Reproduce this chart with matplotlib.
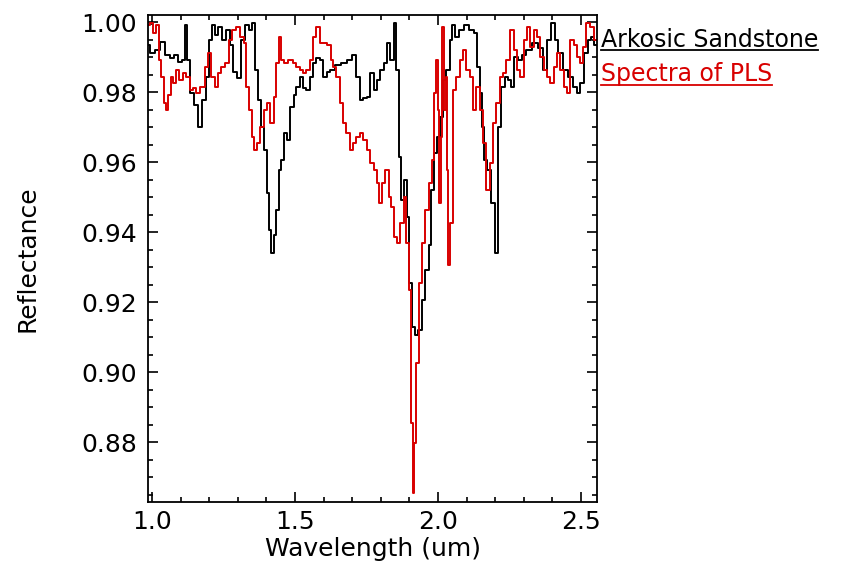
import matplotlib
matplotlib.use("Agg")
import matplotlib.pyplot as plt
from matplotlib.lines import Line2D
from matplotlib.ticker import MultipleLocator

# spectra (wavelength in um, reflectance)
wl_ark = [0.986, 1.000, 1.021, 1.038, 1.056, 1.070, 1.084, 1.098, 1.112, 1.119,
          1.129, 1.140, 1.154, 1.168, 1.182, 1.196, 1.206, 1.213, 1.227, 1.238,
          1.252, 1.266, 1.276, 1.290, 1.304, 1.318, 1.332, 1.346, 1.353, 1.364,
          1.374, 1.385, 1.395, 1.406, 1.413, 1.420, 1.430, 1.437, 1.448, 1.455,
          1.465, 1.476, 1.490, 1.500, 1.510, 1.524, 1.535, 1.545, 1.559, 1.570,
          1.580, 1.594, 1.605, 1.619, 1.629, 1.650, 1.675, 1.692, 1.710, 1.720,
          1.734, 1.745, 1.755, 1.769, 1.780, 1.790, 1.804, 1.815, 1.825, 1.839,
          1.850, 1.857, 1.867, 1.874, 1.885, 1.895, 1.902, 1.913, 1.923, 1.937,
          1.948, 1.962, 1.972, 1.979, 1.990, 2.000, 2.014, 2.024, 2.035, 2.049,
          2.052, 2.066, 2.084, 2.101, 2.119, 2.136, 2.140, 2.154, 2.157, 2.164,
          2.182, 2.192, 2.206, 2.217, 2.227, 2.241, 2.252, 2.259, 2.269, 2.287,
          2.301, 2.315, 2.339, 2.357, 2.374, 2.385, 2.402, 2.413, 2.427, 2.444,
          2.462, 2.479, 2.490, 2.503, 2.521, 2.531, 2.542, 2.552]
refl_ark = [0.9934, 0.9911, 0.9920, 0.9943, 0.9906, 0.9897, 0.9906, 0.9886, 0.9891, 0.9991,
            0.9891, 0.9797, 0.9763, 0.9700, 0.9777, 0.9843, 0.9949, 0.9991, 0.9963, 0.9986,
            0.9949, 0.9977, 0.9934, 0.9857, 0.9840, 0.9949, 0.9991, 0.9977, 0.9997, 0.9863,
            0.9777, 0.9700, 0.9634, 0.9511, 0.9406, 0.9340, 0.9391, 0.9463, 0.9577, 0.9606,
            0.9683, 0.9663, 0.9757, 0.9791, 0.9814, 0.9843, 0.9811, 0.9806, 0.9843, 0.9883,
            0.9897, 0.9891, 0.9843, 0.9857, 0.9863, 0.9877, 0.9883, 0.9891, 0.9906, 0.9843,
            0.9777, 0.9783, 0.9786, 0.9854, 0.9806, 0.9834, 0.9863, 0.9883, 0.9940, 0.9891,
            0.9997, 0.9863, 0.9614, 0.9491, 0.9549, 0.9443, 0.9254, 0.9129, 0.9106, 0.9120,
            0.9206, 0.9291, 0.9363, 0.9520, 0.9626, 0.9671, 0.9729, 0.9834, 0.9863, 0.9949,
            0.9991, 0.9957, 0.9977, 0.9991, 0.9977, 0.9969, 0.9871, 0.9797, 0.9700, 0.9606,
            0.9577, 0.9483, 0.9340, 0.9700, 0.9814, 0.9843, 0.9834, 0.9814, 0.9900, 0.9891,
            0.9906, 0.9920, 0.9940, 0.9926, 0.9863, 0.9949, 0.9997, 0.9949, 0.9911, 0.9863,
            0.9843, 0.9814, 0.9797, 0.9826, 0.9911, 0.9949, 0.9957, 0.9934]

wl_pls = [0.986, 1.000, 1.010, 1.021, 1.028, 1.038, 1.045, 1.052, 1.063, 1.070,
          1.080, 1.091, 1.101, 1.115, 1.126, 1.140, 1.150, 1.161, 1.178, 1.192,
          1.203, 1.213, 1.227, 1.238, 1.248, 1.262, 1.273, 1.283, 1.301, 1.315,
          1.325, 1.332, 1.343, 1.353, 1.360, 1.371, 1.385, 1.395, 1.406, 1.420,
          1.430, 1.437, 1.448, 1.455, 1.465, 1.483, 1.500, 1.510, 1.524, 1.535,
          1.545, 1.559, 1.570, 1.580, 1.594, 1.605, 1.622, 1.629, 1.640, 1.650,
          1.664, 1.675, 1.685, 1.699, 1.710, 1.720, 1.734, 1.745, 1.755, 1.769,
          1.780, 1.790, 1.797, 1.808, 1.822, 1.832, 1.839, 1.850, 1.860, 1.874,
          1.885, 1.892, 1.902, 1.909, 1.913, 1.920, 1.927, 1.937, 1.948, 1.962,
          1.972, 1.983, 1.990, 1.997, 2.000, 2.007, 2.014, 2.017, 2.024, 2.031,
          2.035, 2.038, 2.045, 2.059, 2.070, 2.084, 2.094, 2.105, 2.119, 2.129,
          2.140, 2.154, 2.164, 2.175, 2.189, 2.199, 2.210, 2.224, 2.234, 2.245,
          2.259, 2.269, 2.280, 2.294, 2.304, 2.315, 2.329, 2.339, 2.350, 2.364,
          2.374, 2.385, 2.399, 2.409, 2.420, 2.434, 2.444, 2.455, 2.469, 2.479,
          2.490, 2.503, 2.514, 2.524, 2.538, 2.552]
refl_pls = [0.9991, 0.9997, 0.9969, 0.9991, 0.9891, 0.9843, 0.9769, 0.9749, 0.9791, 0.9843,
            0.9826, 0.9863, 0.9834, 0.9854, 0.9843, 0.9806, 0.9811, 0.9797, 0.9814, 0.9871,
            0.9911, 0.9843, 0.9814, 0.9854, 0.9871, 0.9883, 0.9949, 0.9977, 0.9986, 0.9957,
            0.9940, 0.9814, 0.9749, 0.9671, 0.9634, 0.9654, 0.9700, 0.9749, 0.9769, 0.9711,
            0.9786, 0.9883, 0.9957, 0.9891, 0.9883, 0.9891, 0.9883, 0.9871, 0.9863, 0.9854,
            0.9863, 0.9891, 0.9957, 0.9986, 0.9940, 0.9940, 0.9934, 0.9891, 0.9871, 0.9843,
            0.9769, 0.9711, 0.9683, 0.9634, 0.9654, 0.9671, 0.9683, 0.9663, 0.9634, 0.9597,
            0.9577, 0.9540, 0.9483, 0.9540, 0.9577, 0.9500, 0.9471, 0.9386, 0.9369, 0.9426,
            0.9500, 0.9369, 0.9234, 0.8854, 0.8654, 0.8797, 0.9026, 0.9254, 0.9369, 0.9463,
            0.9540, 0.9606, 0.9797, 0.9891, 0.9749, 0.9483, 0.9671, 0.9986, 0.9749, 0.9843,
            0.9577, 0.9306, 0.9426, 0.9806, 0.9843, 0.9891, 0.9920, 0.9863, 0.9843, 0.9749,
            0.9814, 0.9749, 0.9654, 0.9520, 0.9597, 0.9711, 0.9769, 0.9843, 0.9854, 0.9891,
            0.9977, 0.9920, 0.9863, 0.9843, 0.9949, 0.9986, 0.9929, 0.9977, 0.9957, 0.9900,
            0.9863, 0.9843, 0.9826, 0.9871, 0.9911, 0.9863, 0.9814, 0.9797, 0.9949, 0.9934,
            0.9900, 0.9883, 0.9929, 0.9997, 0.9986, 0.9949]

labels = ["Arkosic Sandstone", "Spectra of PLS"]
colors = ["black", "#d80000"]

plt.rcParams['font.family'] = ['DejaVu Sans']
fig = plt.figure(figsize=(8.67, 5.73), dpi=100)
ax = fig.add_axes([0.1707, 0.1239, 0.5179, 0.8499])

ax.plot(wl_ark, refl_ark, drawstyle='steps-mid', color=colors[0], lw=1.4)
ax.plot(wl_pls, refl_pls, drawstyle='steps-mid', color=colors[1], lw=1.4)

ax.set_xlim(0.986, 2.556)
ax.set_ylim(0.8629, 1.002)
ax.xaxis.set_major_locator(MultipleLocator(0.5))
ax.xaxis.set_minor_locator(MultipleLocator(0.1))
ax.yaxis.set_major_locator(MultipleLocator(0.02))
ax.yaxis.set_minor_locator(MultipleLocator(0.005))
ax.xaxis.set_major_formatter(lambda v, p: f"{v:.1f}")
ax.yaxis.set_major_formatter(lambda v, p: f"{v:.2f}")
ax.tick_params(which='both', direction='in', top=True, right=True,
               width=1.2, labelsize=18, colors='black')
ax.tick_params(which='major', length=7, pad=8)
ax.tick_params(axis='x', which='major', pad=6)
ax.tick_params(which='minor', length=3.5)
for s in ax.spines.values():
    s.set_linewidth(1.3)

ax.set_xlabel("Wavelength (um)", fontsize=18, labelpad=2)
ax.set_ylabel("Reflectance", fontsize=18, labelpad=30)

# legend: coloured labels underlined with the line colour
fig.canvas.draw()
renderer = fig.canvas.get_renderer()
x0 = 601 / 867
for i, (lab, c) in enumerate(zip(labels, colors)):
    yb = 1 - (47 + 34 * i) / 573
    t = fig.text(x0, yb, lab, color=c, fontsize=17, va='baseline', ha='left')
    bb = t.get_window_extent(renderer)
    yl = 1 - (50 + 35 * i) / 573
    fig.add_artist(Line2D([x0, bb.x1 / fig.bbox.width], [yl, yl],
                          color=c, lw=1.3, transform=fig.transFigure))

fig.savefig("out.png", dpi=100)
